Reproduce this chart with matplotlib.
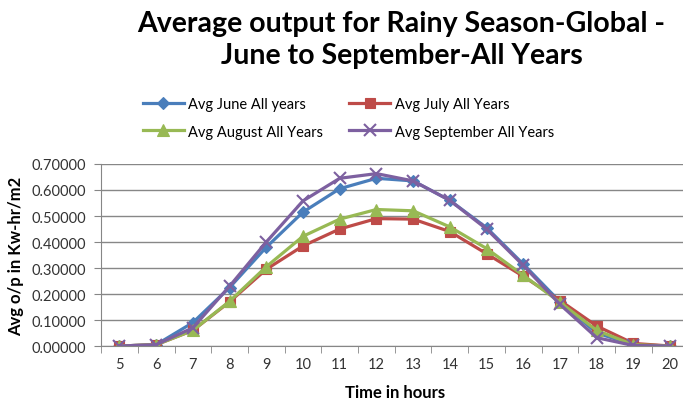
import numpy as np
import matplotlib.pyplot as plt

plt.rcParams['font.family'] = ['Lato', 'DejaVu Sans']

# jam pengamatan
hours = [5, 6, 7, 8, 9, 10, 11, 12, 13, 14, 15, 16, 17, 18, 19, 20]

# rata-rata keluaran per jam (Kw-hr/m2)
june = [0.0, 0.005, 0.090, 0.225, 0.380, 0.515, 0.605, 0.645, 0.635, 0.560,
        0.455, 0.315, 0.170, 0.050, 0.005, 0.0]
july = [0.0, 0.005, 0.060, 0.170, 0.295, 0.385, 0.450, 0.490, 0.488, 0.440,
        0.355, 0.268, 0.175, 0.077, 0.010, 0.0]
august = [0.0, 0.005, 0.060, 0.172, 0.305, 0.422, 0.488, 0.525, 0.520, 0.458,
          0.375, 0.272, 0.168, 0.060, 0.005, 0.0]
september = [0.0, 0.005, 0.070, 0.230, 0.400, 0.558, 0.645, 0.663, 0.635, 0.560,
             0.450, 0.310, 0.160, 0.032, 0.002, 0.0]

series = [
    ('Avg June All years', june, '#4A7EBB', 'D', 6),
    ('Avg July All Years', july, '#BE4B48', 's', 7),
    ('Avg August All Years', august, '#98B954', '^', 8),
    ('Avg September All Years', september, '#7D60A0', 'x', 8),
]

fig = plt.figure(figsize=(6.83, 4.06), dpi=100)
ax = fig.add_axes([0.148, 0.1453, 0.86, 0.4483])

x = np.arange(len(hours))
lines = []
for label, vals, col, mk, ms in series:
    ln, = ax.plot(x, vals, color=col, lw=2.3, marker=mk, markersize=ms,
                  markeredgewidth=1.5 if mk == 'x' else 0.8, label=label)
    lines.append(ln)

ax.set_xlim(-0.5, len(hours) - 0.5)
ax.set_ylim(0, 0.7)
ax.set_yticks(np.arange(0, 0.71, 0.1))
ax.set_yticklabels([f'{v:.5f}' for v in np.arange(0, 0.71, 0.1)])

# label kategori di tengah, garis tick di batas kategori
ax.set_xticks(x)
ax.set_xticklabels([str(h) for h in hours])
ax.set_xticks(np.arange(-0.5, len(hours)), minor=True)
ax.tick_params(axis='x', which='major', length=0, pad=8)
ax.tick_params(axis='x', which='minor', length=5, color='#868686')
ax.tick_params(axis='y', length=5, color='#868686', pad=6)
ax.tick_params(labelsize=10.5, labelcolor='#333333')

ax.grid(axis='y', color='#878787', lw=1)
ax.set_axisbelow(True)
for s in ['top', 'right']:
    ax.spines[s].set_visible(False)
for s in ['left', 'bottom']:
    ax.spines[s].set_color('#868686')

ax.set_xlabel('Time in hours', fontsize=12, fontweight='bold', labelpad=9)
ax.set_ylabel('Avg o/p in Kw-hr/m2', fontsize=12, fontweight='bold', labelpad=5)

fig.text(0.588, 0.972, 'Average output for Rainy Season-Global -\nJune to September-All Years',
         ha='center', va='top', fontsize=20.5, fontweight='bold', linespacing=1.25)

# urutan legenda: baris pertama Juni, Juli; baris kedua Agustus, September
order = [lines[0], lines[2], lines[1], lines[3]]
fig.legend(order, [l.get_label() for l in order], loc='upper left',
           bbox_to_anchor=(0.19, 0.79), ncol=2, frameon=False,
           fontsize=10.5, handlelength=2.8, columnspacing=1.8, labelspacing=0.9,
           handletextpad=0.3)

plt.savefig('out.png', dpi=100)
